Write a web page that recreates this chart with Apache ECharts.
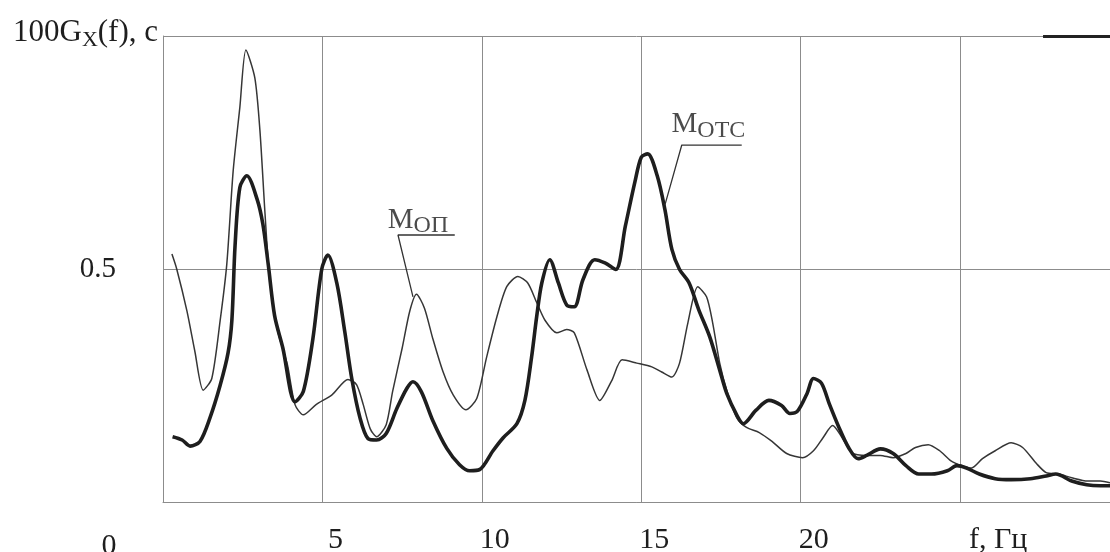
<!DOCTYPE html>
<html><head><meta charset="utf-8">
<script src="https://cdn.jsdelivr.net/npm/echarts@6/dist/echarts.min.js"></script>
<style>html,body{margin:0;padding:0;background:#fff}#c{width:1110px;height:552px}</style>
</head><body><div id="c"></div>
<script>
// M_OTC (thick curve): frequency (Hz) and value
const motcF = [0.3,0.6,0.85,1.16,1.47,1.79,2.04,2.16,2.26,2.41,2.63,2.95,3.13,3.3,3.5,3.76,4.14,4.4,4.7,4.98,5.17,5.45,5.7,5.92,6.18,6.43,6.7,7.0,7.33,7.65,7.84,8.1,8.46,8.9,9.3,9.62,9.94,10.35,10.67,11.1,11.35,11.56,11.72,11.88,12.13,12.4,12.66,12.9,13.17,13.54,13.86,14.2,14.5,14.8,15.0,15.2,15.5,15.74,15.96,16.2,16.5,16.8,17.15,17.46,17.68,18.0,18.2,18.6,19.0,19.4,19.66,19.9,20.2,20.4,20.65,20.9,21.2,21.5,21.8,22.07,22.5,22.9,23.3,23.7,24.1,24.6,24.9,25.2,25.6,26.1,26.6,27.2,27.7,28.0,28.5,28.97,29.4,29.7];
const motcV = [0.14,0.133,0.12,0.13,0.18,0.25,0.32,0.39,0.55,0.675,0.70,0.65,0.597,0.51,0.40,0.33,0.215,0.237,0.35,0.50,0.53,0.47,0.366,0.265,0.18,0.136,0.133,0.147,0.20,0.244,0.258,0.237,0.175,0.115,0.08,0.067,0.07,0.11,0.138,0.168,0.218,0.311,0.398,0.47,0.52,0.47,0.423,0.419,0.477,0.52,0.513,0.499,0.592,0.687,0.74,0.747,0.70,0.628,0.542,0.499,0.47,0.413,0.354,0.283,0.233,0.186,0.168,0.197,0.218,0.207,0.19,0.195,0.233,0.265,0.255,0.21,0.16,0.117,0.093,0.1,0.114,0.104,0.078,0.06,0.06,0.067,0.078,0.073,0.06,0.05,0.048,0.05,0.056,0.06,0.045,0.037,0.035,0.035];
// M_OП (thin curve)
const mopF = [0.28,0.43,0.75,1.0,1.26,1.53,1.79,2.0,2.2,2.41,2.6,2.88,3.04,3.2,3.35,3.6,3.9,4.14,4.4,4.8,5.3,5.8,6.07,6.28,6.5,6.7,7.0,7.2,7.5,7.74,7.95,8.2,8.46,8.78,9.1,9.5,9.84,10.15,10.47,10.78,11.13,11.44,11.72,11.98,12.35,12.66,12.9,13.3,13.7,14.07,14.4,14.86,15.33,15.64,15.96,16.2,16.46,16.77,17.05,17.24,17.46,17.68,18.0,18.3,18.7,19.1,19.56,20.06,20.4,20.7,21.0,21.3,21.6,22.07,22.5,22.9,23.3,23.6,24.0,24.36,24.7,25.05,25.36,25.7,26.1,26.6,26.96,27.4,27.7,28.1,28.5,29.0,29.4,29.7];
const mopV = [0.532,0.50,0.41,0.323,0.24,0.265,0.388,0.51,0.71,0.847,0.97,0.91,0.797,0.618,0.474,0.366,0.295,0.209,0.187,0.209,0.23,0.263,0.252,0.209,0.157,0.14,0.166,0.237,0.33,0.41,0.446,0.416,0.351,0.28,0.23,0.198,0.222,0.311,0.397,0.462,0.484,0.47,0.428,0.39,0.363,0.37,0.363,0.283,0.218,0.26,0.305,0.298,0.29,0.279,0.268,0.298,0.384,0.462,0.44,0.384,0.298,0.24,0.18,0.16,0.149,0.13,0.104,0.095,0.11,0.138,0.164,0.138,0.106,0.1,0.1,0.095,0.104,0.117,0.123,0.11,0.089,0.078,0.073,0.093,0.11,0.127,0.117,0.082,0.063,0.06,0.052,0.045,0.045,0.041];
// tick labels
const xTicks = [0,5,10,15,20,25];
const xTickLabels = ['0','5','10','15','20','f, Гц'];
const yTicks = [0,0.5,1];
const yTickLabels = ['', '0.5', '100G|X|(f), c'];
// series names
const seriesNames = ['M|ОТС', 'M|ОП'];

const SERIF = "'Liberation Serif','DejaVu Serif',serif";
const INK = '#1e1e1e';
const GRIDC = '#8c8c8c';

const zip = (a,b) => a.map((v,i)=>[v,b[i]]);

const chart = echarts.init(document.getElementById('c'), null, {renderer:'canvas'});

function richName(s){ const p=s.split('|'); return '{m|'+p[0]+'}{s|'+p[1]+'}'; }

const yTop = yTickLabels[2].split('|');

chart.setOption({
  backgroundColor:'#ffffff',
  animation:false,
  grid:{left:163, right:0, top:36, bottom:50, containLabel:false, outerBoundsMode:'none'},
  xAxis:{
    type:'value', min:0, max:29.7, interval:5,
    axisLine:{show:true, lineStyle:{color:GRIDC, width:1}},
    axisTick:{show:false},
    splitLine:{show:true, showMaxLine:false, lineStyle:{color:GRIDC, width:1}},
    axisLabel:{
      show:true, showMinLabel:true, showMaxLabel:true, margin:23,
      fontFamily:SERIF, color:INK, fontSize:30,
      formatter:function(v){
        const i = xTicks.indexOf(v);
        if(i<0) return '';
        if(v===0) return '{z|'+xTickLabels[i]+'}';
        if(i===xTicks.length-1) return '{f|'+xTickLabels[i]+'}';
        return '{n|'+xTickLabels[i]+'}';
      },
      rich:{
        z:{fontFamily:SERIF, fontSize:30, color:INK, padding:[6,108,0,0]},
        n:{fontFamily:SERIF, fontSize:30, color:INK, padding:[0,0,0,26]},
        f:{fontFamily:SERIF, fontSize:30, color:INK, padding:[0,0,0,76]}
      }
    }
  },
  yAxis:{
    type:'value', min:0, max:1, interval:0.5,
    axisLine:{show:true, lineStyle:{color:GRIDC, width:1}},
    axisTick:{show:false},
    splitLine:{show:true, showMaxLine:true, lineStyle:{color:GRIDC, width:1}},
    axisLabel:{
      show:true, showMinLabel:true, showMaxLabel:true, margin:5,
      fontFamily:SERIF, color:INK, fontSize:29,
      formatter:function(v){
        if(Math.abs(v-yTicks[1])<1e-9) return '{h|'+yTickLabels[1]+'}';
        if(Math.abs(v-yTicks[2])<1e-9) return '{a|'+yTop[0]+'}{s|'+yTop[1]+'}{a|'+yTop[2]+'}';
        return '';
      },
      rich:{
        h:{fontFamily:SERIF, fontSize:29, color:INK, padding:[0,42,0,0]},
        a:{fontFamily:SERIF, fontSize:31, color:INK, padding:[0,0,6,0]},
        s:{fontFamily:SERIF, fontSize:22, color:INK, padding:[8,0,0,0]}
      }
    }
  },
  series:[
    {
      name:seriesNames[1], type:'line', data:zip(mopF,mopV),
      showSymbol:false, symbol:'none', smooth:0.25,
      lineStyle:{color:'#363636', width:1.5}, z:3
    },
    {
      name:seriesNames[0], type:'line', data:zip(motcF,motcV),
      showSymbol:false, symbol:'none', smooth:0.3,
      lineStyle:{color:INK, width:3.6}, z:4,
      markLine:{
        silent:true, symbol:'none', label:{show:false},
        lineStyle:{color:'#222', width:3, type:'solid'},
        data:[[{coord:[27.6,1]},{coord:[29.7,1]}]]
      }
    },
    // leader lines for annotations
    {
      type:'line', symbol:'none', silent:true, z:5,
      lineStyle:{color:'#333', width:1.3},
      data:[[9.15,0.573],[7.37,0.573],[7.84,0.44]]
    },
    {
      type:'line', symbol:'none', silent:true, z:5,
      lineStyle:{color:'#333', width:1.3},
      data:[[18.15,0.766],[16.27,0.766],[15.74,0.637]]
    },
    // annotation texts
    {
      type:'scatter', symbolSize:0, silent:true, z:6,
      data:[
        {value:[7.05,0.605], name:seriesNames[1]},
        {value:[15.95,0.81], name:seriesNames[0]}
      ],
      label:{
        show:true, position:'right', distance:0, color:INK,
        formatter:function(p){ return richName(p.name); },
        rich:{
          m:{fontFamily:SERIF, fontSize:29, color:INK},
          s:{fontFamily:SERIF, fontSize:24, color:INK, padding:[12,0,0,0]}
        }
      }
    }
  ]
});
</script></body></html>
